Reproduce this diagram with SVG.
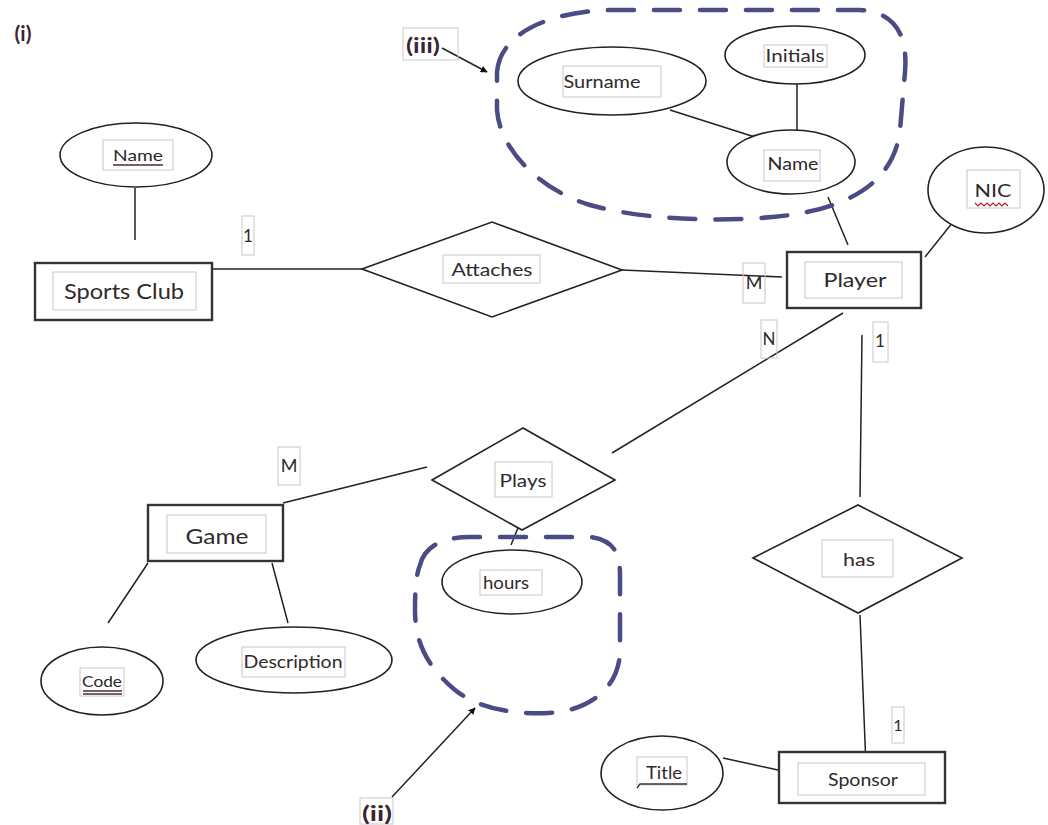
<svg xmlns="http://www.w3.org/2000/svg" width="1048" height="825" viewBox="0 0 1048 825">
<style>
.bg{fill:#fff}
.shape{fill:#fff;stroke:#222;stroke-width:1.6}
.ent{fill:#fff;stroke:#333;stroke-width:2.4}
.lbox{fill:none;stroke:#c8c8c8;stroke-width:1}
.t{font-family:Lato,"Open Sans","Liberation Sans",sans-serif;fill:#2f2a2c;text-anchor:middle}
.tb{font-family:Lato,"Open Sans","Liberation Sans",sans-serif;fill:#3a2530;text-anchor:middle;font-weight:bold}
.ln{stroke:#222;stroke-width:1.5;fill:none}
.blob{fill:none;stroke:#4b4b86;stroke-width:4.5;stroke-dasharray:26 20;stroke-linecap:round}
.ul{stroke:#4a2a3a;stroke-width:1.3;fill:none}
</style>
<defs>
<marker id="arr" viewBox="0 0 10 10" refX="9" refY="5" markerWidth="7" markerHeight="7" orient="auto" markerUnits="userSpaceOnUse">
<path d="M0,0 L10,5 L0,10 Z" fill="#111"/>
</marker>
</defs>
<rect class="bg" x="0" y="0" width="1048" height="825"/>

<g id="connectors">
<line class="ln" x1="135" y1="188" x2="135" y2="240"/>
<line class="ln" x1="212" y1="269" x2="362" y2="269"/>
<line class="ln" x1="622" y1="270" x2="782" y2="277"/>
<line class="ln" x1="670" y1="110" x2="758" y2="138"/>
<line class="ln" x1="797" y1="84" x2="797" y2="130"/>
<line class="ln" x1="828" y1="197" x2="848" y2="245"/>
<line class="ln" x1="925" y1="257" x2="965" y2="207"/>
<line class="ln" x1="843" y1="313" x2="612" y2="453"/>
<line class="ln" x1="862" y1="335" x2="860" y2="497"/>
<line class="ln" x1="860" y1="615" x2="866" y2="767"/>
<line class="ln" x1="283" y1="503" x2="427" y2="467"/>
<line class="ln" x1="524" y1="513" x2="511" y2="545"/>
<line class="ln" x1="148" y1="563" x2="108" y2="623"/>
<line class="ln" x1="272" y1="563" x2="288" y2="623"/>
<line class="ln" x1="723" y1="758" x2="778" y2="770"/>
<line class="ln" x1="442" y1="48" x2="487" y2="72" stroke-width="1.3" marker-end="url(#arr)"/>
<line class="ln" x1="392" y1="797" x2="475" y2="708" stroke-width="1.3" marker-end="url(#arr)"/>
</g>

<g id="group-iii">
<path class="blob" d="M497,72 C500,35 545,12 610,10 L860,10 C895,12 908,35 905,72 L900,130 C895,175 860,205 790,215 C740,222 650,222 590,205 C540,190 500,150 497,110 Z"/>
</g>
<g id="group-ii">
<path class="blob" d="M420,565 C425,545 445,537 470,537 L590,537 C615,540 620,555 620,575 L620,650 C620,680 600,705 560,712 C520,716 480,710 455,690 C425,665 415,640 415,610 C415,590 416,575 420,565 Z"/>
</g>

<g id="label-i"><text class="tb" x="23" y="41" font-size="21">(i)</text></g>
<g id="label-iii">
<rect class="lbox" x="403" y="28" width="55" height="32"/>
<text class="tb" x="423" y="53" font-size="20" textLength="34" lengthAdjust="spacingAndGlyphs">(iii)</text>
</g>
<g id="label-ii">
<rect class="lbox" x="360" y="798" width="33" height="26"/>
<text class="tb" x="377" y="821" font-size="20" textLength="30" lengthAdjust="spacingAndGlyphs">(ii)</text>
</g>

<g id="club-name">
<ellipse class="shape" cx="136" cy="155" rx="76" ry="32"/>
<rect class="lbox" x="103" y="140" width="70" height="30"/>
<text class="t" x="138" y="161" font-size="16" textLength="50" lengthAdjust="spacingAndGlyphs">Name</text>
<line class="ul" x1="113" y1="165" x2="163" y2="165"/>
</g>
<g id="sports-club">
<rect class="ent" x="35" y="263" width="177" height="57"/>
<rect class="lbox" x="53" y="272" width="143" height="38"/>
<text class="t" x="124" y="299" font-size="21" textLength="120" lengthAdjust="spacingAndGlyphs">Sports Club</text>
</g>
<g id="card-club">
<rect class="lbox" x="242" y="216" width="12" height="39"/>
<text class="t" x="248" y="242" font-size="17">1</text>
</g>

<g id="attaches">
<polygon class="shape" points="362,269 492,222 622,270 492,317"/>
<rect class="lbox" x="443" y="255" width="97" height="28"/>
<text class="t" x="492" y="276" font-size="18" textLength="81" lengthAdjust="spacingAndGlyphs">Attaches</text>
</g>
<g id="card-m-player">
<rect class="lbox" x="743" y="263" width="22" height="40"/>
<text class="t" x="754" y="289" font-size="18">M</text>
</g>

<g id="player">
<rect class="ent" x="787" y="252" width="134" height="56" stroke="#222"/>
<rect class="lbox" x="805" y="262" width="97" height="36"/>
<text class="t" x="855" y="287" font-size="20" textLength="63" lengthAdjust="spacingAndGlyphs">Player</text>
</g>
<g id="card-n">
<rect class="lbox" x="761" y="320" width="16" height="38"/>
<text class="t" x="769" y="345" font-size="17">N</text>
</g>
<g id="card-1-player">
<rect class="lbox" x="873" y="322" width="15" height="40"/>
<text class="t" x="880" y="347" font-size="17">1</text>
</g>

<g id="nic">
<ellipse class="shape" cx="986" cy="190" rx="58" ry="43"/>
<rect class="lbox" x="967" y="170" width="53" height="38"/>
<text class="t" x="993" y="197" font-size="18" textLength="37" lengthAdjust="spacingAndGlyphs">NIC</text>
<path d="M975,203 l3,3 l3,-3 l3,3 l3,-3 l3,3 l3,-3 l3,3 l3,-3 l3,3 l3,-3 l3,3" fill="none" stroke="#b02020" stroke-width="1.2"/>
</g>

<g id="surname">
<ellipse class="shape" cx="612" cy="81" rx="94" ry="34"/>
<rect class="lbox" x="563" y="66" width="98" height="31"/>
<text class="t" x="602" y="88" font-size="18" textLength="77" lengthAdjust="spacingAndGlyphs">Surname</text>
</g>
<g id="initials">
<ellipse class="shape" cx="795" cy="55" rx="70" ry="29"/>
<rect class="lbox" x="764" y="45" width="63" height="22"/>
<text class="t" x="795" y="62" font-size="17" textLength="59" lengthAdjust="spacingAndGlyphs">Initials</text>
</g>
<g id="player-name">
<ellipse class="shape" cx="791" cy="162" rx="64" ry="32"/>
<rect class="lbox" x="764" y="150" width="56" height="31"/>
<text class="t" x="793" y="170" font-size="17" textLength="51" lengthAdjust="spacingAndGlyphs">Name</text>
</g>

<g id="plays">
<polygon class="shape" points="432,480 523,428 615,480 522,530"/>
<rect class="lbox" x="495" y="462" width="57" height="35"/>
<text class="t" x="523" y="487" font-size="18" textLength="47" lengthAdjust="spacingAndGlyphs">Plays</text>
</g>
<g id="hours">
<ellipse class="shape" cx="512" cy="582" rx="70" ry="32"/>
<rect class="lbox" x="480" y="570" width="62" height="25"/>
<text class="t" x="506" y="589" font-size="17" textLength="46" lengthAdjust="spacingAndGlyphs">hours</text>
</g>

<g id="game">
<rect class="ent" x="148" y="505" width="135" height="56" stroke="#555"/>
<rect class="lbox" x="167" y="515" width="99" height="38"/>
<text class="t" x="217" y="544" font-size="21" textLength="63" lengthAdjust="spacingAndGlyphs">Game</text>
</g>
<g id="card-m-game">
<rect class="lbox" x="278" y="447" width="22" height="38"/>
<text class="t" x="289" y="472" font-size="18">M</text>
</g>
<g id="code">
<ellipse class="shape" cx="102" cy="681" rx="61" ry="34"/>
<rect class="lbox" x="80" y="668" width="44" height="28"/>
<text class="t" x="102" y="687" font-size="16" textLength="40" lengthAdjust="spacingAndGlyphs">Code</text>
<line class="ul" x1="83" y1="691" x2="122" y2="691"/>
<line class="ul" x1="83" y1="694" x2="122" y2="694"/>
</g>
<g id="description">
<ellipse class="shape" cx="294" cy="660" rx="98" ry="33"/>
<rect class="lbox" x="242" y="647" width="103" height="30"/>
<text class="t" x="293" y="668" font-size="17" textLength="99" lengthAdjust="spacingAndGlyphs">Description</text>
</g>

<g id="has">
<polygon class="shape" points="753,558 858,505 962,558 858,613"/>
<rect class="lbox" x="822" y="540" width="71" height="37"/>
<text class="t" x="859" y="566" font-size="17" textLength="32" lengthAdjust="spacingAndGlyphs">has</text>
</g>
<g id="card-1-sponsor">
<rect class="lbox" x="892" y="707" width="12" height="36"/>
<text class="t" x="898" y="731" font-size="16">1</text>
</g>
<g id="sponsor">
<rect class="ent" x="779" y="752" width="166" height="51" stroke="#111" stroke-width="5"/>
<rect class="lbox" x="798" y="763" width="127" height="32"/>
<text class="t" x="863" y="786" font-size="17" textLength="70" lengthAdjust="spacingAndGlyphs">Sponsor</text>
</g>
<g id="title">
<ellipse class="shape" cx="662" cy="773" rx="61" ry="37"/>
<rect class="lbox" x="637" y="757" width="50" height="28"/>
<text class="t" x="664" y="779" font-size="17" textLength="36" lengthAdjust="spacingAndGlyphs">Title</text>
<path class="ul" d="M637,788 L640,784 L687,784" stroke-width="1.8"/>
</g>
</svg>
